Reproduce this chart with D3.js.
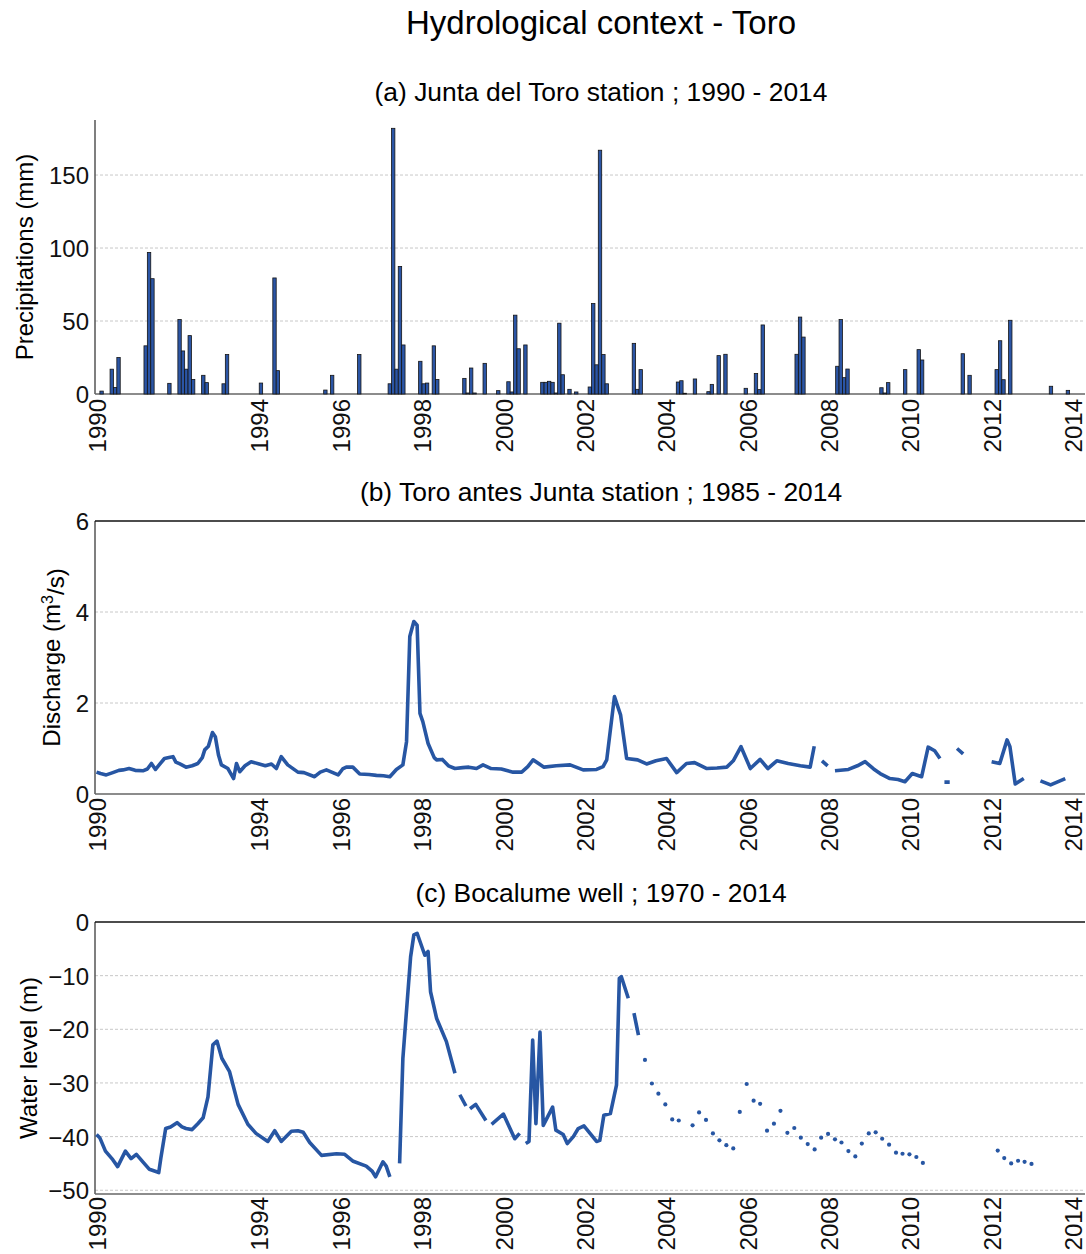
<!DOCTYPE html>
<html>
<head>
<meta charset="utf-8">
<script src="https://d3js.org/d3.v7.min.js"></script>
<style>
  body { margin: 0; background: #fff; }
  svg { display: block; font-family: "Liberation Sans", Arial, sans-serif; }
  .grid line { stroke: #c8c8c8; stroke-dasharray: 3,2; stroke-width: 1; }
  .tick text { font-size: 24px; fill: #111; }
</style>
</head>
<body>
<svg id="chart" width="1086" height="1254"></svg>
<script>
// ---- data ----
var yearTicks = [1990, 1994, 1996, 1998, 2000, 2002, 2004, 2006, 2008, 2010, 2012, 2014];

// (a) monthly precipitation, Junta del Toro
var precipMonths = ["1990-02","1990-05","1990-06","1990-07","1991-03","1991-04","1991-05","1991-10",
  "1992-01","1992-02","1992-03","1992-04","1992-05","1992-08","1992-09","1993-02","1993-03",
  "1994-01","1994-05","1994-06","1995-08","1995-10","1996-06","1997-03","1997-04","1997-05",
  "1997-06","1997-07","1997-12","1998-01","1998-02","1998-04","1998-05","1999-01","1999-02",
  "1999-03","1999-04","1999-07","1999-11","2000-02","2000-03","2000-04","2000-05","2000-07",
  "2000-12","2001-01","2001-02","2001-03","2001-04","2001-05","2001-06","2001-08","2001-10",
  "2002-02","2002-03","2002-04","2002-05","2002-06","2002-07","2003-03","2003-04","2003-05",
  "2004-04","2004-05","2004-06","2004-09","2005-01","2005-02","2005-04","2005-06","2005-12",
  "2006-03","2006-04","2006-05","2007-03","2007-04","2007-05","2008-03","2008-04","2008-05",
  "2008-06","2009-04","2009-05","2009-06","2009-11","2010-03","2010-04","2011-04","2011-06",
  "2012-02","2012-03","2012-04","2012-06","2013-06","2013-11"];
var precipValues = [2,17,4.5,25,33,97,79,7.3,
  51,29.5,17,40,10,12.8,7.8,7,27,
  7.5,79.5,16,2.7,12.8,27,7,182,17,
  87.4,33.6,22.4,7,7.5,33,10,10.7,0.7,
  17.8,0.7,21,2.3,8.4,1.4,54,31,33.6,
  8,8,8.7,8,0.7,48.5,13.2,3.2,1.4,
  4.8,62,20,167,27,7,34.7,3.2,16.7,
  8.2,9.1,0.5,10.3,1.6,6.6,26.3,27.2,3.9,
  14,3,47.3,27.2,52.7,39,19,51,11.2,
  17.1,4.3,0.7,7.8,16.7,30.4,23.3,27.6,12.8,
  16.7,36.5,9.8,50.5,5.3,2.5];

// (b) discharge, Toro antes Junta (null = gap)
var flowYears = [1990.00,1990.10,1990.24,1990.40,1990.55,1990.65,1990.80,1990.95,1991.14,1991.25,
  1991.35,1991.45,1991.55,1991.67,1991.78,1991.88,1991.95,1992.05,1992.20,1992.35,1992.49,1992.60,
  1992.66,1992.75,1992.85,1992.92,1993.00,1993.07,1993.23,1993.37,1993.44,1993.52,1993.65,1993.80,
  1994.00,1994.15,1994.30,1994.42,1994.54,1994.70,1994.95,1995.10,1995.36,1995.50,1995.65,1995.94,
  1996.05,1996.14,1996.30,1996.47,1996.70,1996.88,1997.05,1997.21,1997.37,1997.53,1997.62,1997.70,
  1997.80,1997.88,1997.95,1998.02,1998.15,1998.30,1998.36,1998.50,1998.65,1998.81,1999.00,1999.15,
  1999.34,1999.50,1999.70,1999.95,2000.24,2000.45,2000.60,2000.73,2001.00,2001.30,2001.64,2001.96,
  2002.29,2002.45,2002.54,2002.73,2002.88,2003.03,2003.30,2003.52,2003.75,2004.01,2004.26,2004.50,
  2004.70,2005.00,2005.25,2005.49,2005.65,2005.84,2006.07,2006.31,2006.50,2006.72,2007.00,2007.30,
  2007.54,2007.64,2007.70,2007.83,2007.97,2008.05,2008.15,2008.48,2008.70,2008.89,2009.10,2009.26,
  2009.50,2009.70,2009.87,2010.05,2010.28,2010.44,2010.60,2010.73,2010.78,2010.84,2010.97,2011.05,
  2011.15,2011.30,2011.60,2012.00,2012.20,2012.38,2012.45,2012.58,2012.79,2013.00,2013.20,2013.45,
  2013.81];
var flowValues = [0.48,0.45,0.42,0.47,0.52,0.53,0.56,0.52,0.51,0.55,
  0.67,0.54,0.65,0.78,0.80,0.82,0.70,0.66,0.59,0.62,0.67,0.80,
  0.97,1.05,1.35,1.26,0.85,0.64,0.56,0.34,0.67,0.49,0.62,0.71,
  0.66,0.62,0.66,0.56,0.82,0.64,0.48,0.47,0.38,0.48,0.53,0.42,
  0.55,0.59,0.59,0.44,0.43,0.41,0.40,0.38,0.54,0.64,1.15,3.46,
  3.79,3.71,1.77,1.59,1.11,0.80,0.75,0.76,0.62,0.56,0.58,0.59,
  0.56,0.64,0.56,0.55,0.48,0.48,0.60,0.75,0.59,0.62,0.64,0.53,
  0.54,0.60,0.75,2.14,1.74,0.78,0.75,0.66,0.73,0.78,0.47,0.67,
  0.69,0.56,0.57,0.59,0.73,1.04,0.56,0.76,0.56,0.73,0.67,0.62,
  0.59,1.05,null,0.73,0.62,null,0.51,0.54,0.62,0.71,0.55,0.45,
  0.34,0.32,0.27,0.45,0.38,1.03,0.95,0.78,null,0.26,0.26,null,
  1.00,0.88,null,0.71,0.67,1.19,1.04,0.22,0.34,null,0.29,0.20,
  0.34];

// (c) Bocalume well water level, continuous record (null = gap)
var wellYears = [1990.00,1990.08,1990.22,1990.40,1990.52,1990.71,1990.85,1990.98,1991.15,1991.30,
  1991.53,1991.58,1991.70,1991.82,1991.98,1992.10,1992.20,1992.35,1992.49,1992.62,1992.74,1992.86,
  1992.96,1993.08,1993.27,1993.48,1993.72,1993.92,1994.21,1994.38,1994.54,1994.79,1994.95,1995.08,
  1995.24,1995.53,1995.90,1996.10,1996.31,1996.63,1996.78,1996.86,1997.04,1997.12,1997.21,1997.33,
  1997.45,1997.53,1997.72,1997.80,1997.88,1998.07,1998.15,1998.21,1998.36,1998.60,1998.81,1998.87,
  1998.93,1999.08,1999.13,1999.18,1999.32,1999.57,1999.64,1999.71,1999.85,2000.00,2000.28,2000.40,
  2000.48,2000.55,2000.63,2000.72,2000.80,2000.90,2000.98,2001.21,2001.29,2001.47,2001.57,2001.72,
  2001.84,2001.98,2002.13,2002.29,2002.37,2002.47,2002.63,2002.78,2002.85,2002.90,2003.07,2003.14,
  2003.21,2003.32];
var wellValues = [-39.6,-40.2,-42.7,-44.3,-45.6,-42.7,-44.1,-43.3,-44.8,-46.1,
  -46.7,-44.1,-38.5,-38.2,-37.4,-38.2,-38.5,-38.7,-37.6,-36.5,-32.6,-22.9,
  -22.2,-25.4,-27.9,-34.0,-37.7,-39.4,-40.9,-38.9,-40.9,-39.0,-38.9,-39.2,
  -41.1,-43.5,-43.2,-43.3,-44.6,-45.5,-46.5,-47.5,-44.7,-45.5,-47.5,null,
  -45.0,-25.4,-6.5,-2.4,-2.1,-6.2,-5.5,-13.0,-18.0,-22.3,-28.2,null,
  -32.2,-34.3,null,-34.8,-34.0,-37.0,null,-37.7,-36.8,-35.8,-40.4,-39.4,
  null,-41.3,-40.9,-22.0,-37.6,-20.5,-37.9,-34.5,-38.8,-39.6,-41.3,-40.0,
  -38.5,-38.0,-39.4,-40.9,-40.7,-36.0,-35.7,-30.4,-10.5,-10.2,-14.2,null,
  -17.0,-21.1];

// (c) isolated later readings
var wellDotYears = [2003.48,2003.65,2003.81,2003.98,2004.15,2004.31,2004.65,2004.81,2004.98,2005.15,
  2005.31,2005.48,2005.65,2005.81,2005.98,2006.15,2006.31,2006.48,2006.65,2006.81,2006.98,2007.15,
  2007.31,2007.48,2007.65,2007.81,2007.98,2008.15,2008.31,2008.48,2008.65,2008.81,2008.98,2009.15,
  2009.31,2009.48,2009.65,2009.81,2009.98,2010.15,2010.31,2012.15,2012.31,2012.48,2012.65,2012.81,
  2012.98];
var wellDotValues = [-25.7,-30.1,-32.0,-34.0,-36.8,-37.0,-37.9,-35.5,-36.9,-39.4,
  -40.7,-41.6,-42.2,-35.4,-30.2,-33.3,-33.9,-38.9,-37.6,-35.2,-39.3,-38.4,
  -40.2,-41.4,-42.4,-40.2,-39.5,-40.5,-41.1,-42.7,-43.7,-41.3,-39.4,-39.2,
  -40.4,-41.5,-43.0,-43.2,-43.3,-43.8,-44.9,-42.6,-44.0,-45.0,-44.5,-44.7,
  -45.1];

// ---- layout ----
var blue = "#2756a3";
var plotLeft = 95, plotRight = 1085;

var svg = d3.select("#chart");

var x = d3.scaleLinear()
    .domain([1990, 2014])
    .range([96.5, 1073]);

svg.append("text")
    .attr("x", 601)
    .attr("y", 34)
    .attr("text-anchor", "middle")
    .style("font-size", "33px")
    .text("Hydrological context - Toro");

function panel(opt) {
  var y = d3.scaleLinear()
      .domain(opt.domain)
      .range([opt.bottom, opt.top]);

  svg.append("text")
      .attr("x", 601)
      .attr("y", opt.titleY)
      .attr("text-anchor", "middle")
      .style("font-size", "26.4px")
      .text(opt.title);

  // grid
  svg.append("g")
      .attr("class", "grid")
    .selectAll("line")
      .data(opt.grid)
    .enter().append("line")
      .attr("x1", plotLeft)
      .attr("x2", plotRight)
      .attr("y1", function(d) { return y(d); })
      .attr("y2", function(d) { return y(d); });

  // y axis
  var yAxis = svg.append("g")
      .attr("transform", "translate(" + plotLeft + ",0)")
      .call(d3.axisLeft(y).tickValues(opt.yTicks).tickFormat(d3.format("d")).tickSize(0).tickPadding(6));
  yAxis.select(".domain").remove();
  yAxis.selectAll(".tick text").attr("dy", "0.35em");

  // x axis with rotated labels
  var xAxis = svg.append("g")
      .attr("transform", "translate(0," + opt.bottom + ")")
      .call(d3.axisBottom(x).tickValues(yearTicks).tickFormat(d3.format("d")).tickSize(0));
  xAxis.select(".domain").remove();
  xAxis.selectAll(".tick text")
      .attr("text-anchor", "end")
      .attr("transform", "rotate(-90)")
      .attr("x", -opt.labelGap)
      .attr("y", 0)
      .attr("dy", "0.36em");

  // frame lines
  svg.append("line")
      .attr("x1", plotLeft).attr("x2", plotLeft)
      .attr("y1", opt.top).attr("y2", opt.bottom)
      .attr("stroke", "#555").attr("stroke-width", 1.5);
  svg.append("line")
      .attr("x1", plotLeft).attr("x2", plotRight)
      .attr("y1", opt.bottom).attr("y2", opt.bottom)
      .attr("stroke", "#666").attr("stroke-width", 1.5);
  if (opt.topLine) {
    svg.append("line")
        .attr("x1", plotLeft).attr("x2", plotRight)
        .attr("y1", opt.top).attr("y2", opt.top)
        .attr("stroke", "#111").attr("stroke-width", 1.5);
  }

  // y label
  var lab = svg.append("text")
      .attr("transform", "translate(" + opt.labelX + "," + (opt.top + opt.bottom) / 2 + ") rotate(-90)")
      .attr("text-anchor", "middle")
      .style("font-size", "24px");
  opt.label(lab);

  return y;
}

// (a) precipitation bars
var yA = panel({
  title: "(a) Junta del Toro station ; 1990 - 2014", titleY: 101,
  top: 120, bottom: 394, domain: [0, 187.7],
  yTicks: [0, 50, 100, 150], grid: [50, 100, 150],
  labelGap: 5, labelX: 33, topLine: false,
  label: function(t) { t.text("Precipitations (mm)"); }
});

var precip = precipMonths.map(function(m, i) {
  var p = m.split("-");
  return { t: +p[0] + (+p[1] - 1) / 12, v: precipValues[i] };
});

svg.append("g").selectAll("rect")
    .data(precip)
  .enter().append("rect")
    .attr("x", function(d) { return x(d.t); })
    .attr("width", x(1990 + 1 / 12) - x(1990))
    .attr("y", function(d) { return yA(d.v); })
    .attr("height", function(d) { return yA(0) - yA(d.v); })
    .attr("fill", "#2b55a5")
    .attr("stroke", "#151515")
    .attr("stroke-width", 0.8);

// (b) discharge line
var yB = panel({
  title: "(b) Toro antes Junta station ; 1985 - 2014", titleY: 501,
  top: 521, bottom: 794, domain: [0, 6],
  yTicks: [0, 2, 4, 6], grid: [2, 4],
  labelGap: 4, labelX: 60, topLine: true,
  label: function(t) {
    t.append("tspan").text("Discharge (m");
    t.append("tspan").attr("dy", "-0.45em").style("font-size", "16px").text("3");
    t.append("tspan").attr("dy", "0.45em").text("/s)");
  }
});

var flow = flowYears.map(function(t, i) { return { t: t, v: flowValues[i] }; });

svg.append("path")
    .datum(flow)
    .attr("fill", "none")
    .attr("stroke", blue)
    .attr("stroke-width", 3.6)
    .attr("stroke-linejoin", "round")
    .attr("d", d3.line()
        .defined(function(d) { return d.v !== null; })
        .x(function(d) { return x(d.t); })
        .y(function(d) { return yB(d.v); }));

// (c) water level
var yC = panel({
  title: "(c) Bocalume well ; 1970 - 2014", titleY: 902,
  top: 922, bottom: 1194, domain: [-50.7, 0],
  yTicks: [-50, -40, -30, -20, -10, 0], grid: [-50, -40, -30, -20, -10],
  labelGap: 3, labelX: 37, topLine: true,
  label: function(t) { t.text("Water level (m)"); }
});

var well = wellYears.map(function(t, i) { return { t: t, v: wellValues[i] }; });

svg.append("path")
    .datum(well)
    .attr("fill", "none")
    .attr("stroke", blue)
    .attr("stroke-width", 3.6)
    .attr("stroke-linejoin", "round")
    .attr("d", d3.line()
        .defined(function(d) { return d.v !== null; })
        .x(function(d) { return x(d.t); })
        .y(function(d) { return yC(d.v); }));

svg.append("g").selectAll("circle")
    .data(wellDotYears)
  .enter().append("circle")
    .attr("cx", function(d) { return x(d); })
    .attr("cy", function(d, i) { return yC(wellDotValues[i]); })
    .attr("r", 2.1)
    .attr("fill", blue);
</script>
</body>
</html>
